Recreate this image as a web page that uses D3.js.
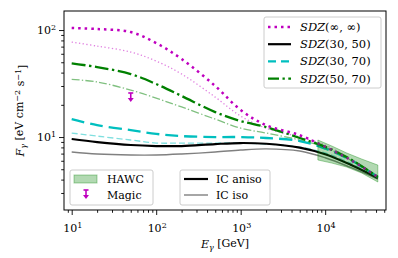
<!DOCTYPE html>
<html>
<head>
<meta charset="utf-8">
<script src="https://cdn.jsdelivr.net/npm/d3@7"></script>
<style>
  body { margin: 0; background: #fff; }
  svg text { font-family: "DejaVu Serif", serif; fill: #000; }
</style>
</head>
<body>
<div id="chart"></div>
<script>
// energies in GeV shared by all model curves
const energies = [10, 20, 50, 100, 200, 500, 1000, 2000, 5000, 10000, 20000, 42000];

const sdzInfInf = [104.4, 102.2, 95.8, 75.6, 53.6, 30.0, 17.9, 12.9, 10.4, 8.1, 6.1, 4.23];
const sdzInfInfThin = [77.2, 70.8, 62.3, 51.3, 38.8, 23.6, 15.7, 12.1, 10.0, 8.4, 6.2, 4.23];
const sdz5070 = [48.8, 45.1, 38.8, 31.3, 24.2, 17.1, 14.1, 12.4, 9.79, 8.1, 6.2, 4.23];
const sdz5070Thin = [34.6, 32.7, 27.5, 23.1, 19.1, 14.7, 12.1, 10.9, 9.38, 8.0, 6.1, 4.23];
const sdz3070 = [14.7, 12.9, 11.6, 10.7, 10.2, 10.0, 10.0, 9.79, 9.18, 7.8, 6.1, 4.23];
const sdz3070Thin = [10.9, 10.2, 9.38, 8.79, 8.79, 8.79, 8.79, 8.60, 8.06, 7.1, 5.7, 4.14];
const icAniso = [9.58, 8.98, 8.42, 8.24, 8.24, 8.60, 8.79, 8.65, 7.95, 6.9, 5.5, 4.14];
const icIso = [7.24, 6.94, 6.79, 6.79, 6.94, 7.24, 7.56, 7.75, 7.4, 6.4, 5.2, 4.05];

const hawcE = [8200, 12000, 18000, 27000, 42000];
const hawcHigh = [9.38, 8.24, 7.09, 6.23, 5.47];
const hawcLow = [6.10, 5.71, 5.24, 4.61, 3.80];

const magicE = [50];
const magicUL = [25.8];

const xMajor = [10, 100, 1000, 10000];
const yMajor = [10, 100];

const W = 398, H = 258;
const plot = { left: 64, right: 386, top: 11, bottom: 210 };

const svg = d3.select('#chart').append('svg')
  .attr('width', W).attr('height', H);

const x = d3.scaleLog().domain([Math.pow(10, 0.909), Math.pow(10, 4.72)]).range([plot.left, plot.right]);
const y = d3.scaleLog().domain([Math.pow(10, 0.318), Math.pow(10, 2.178)]).range([plot.bottom, plot.top]);

svg.append('clipPath').attr('id', 'clip')
  .append('rect')
  .attr('x', plot.left).attr('y', plot.top)
  .attr('width', plot.right - plot.left).attr('height', plot.bottom - plot.top);

const g = svg.append('g').attr('clip-path', 'url(#clip)');

const line = d3.line()
  .x((d, i) => x(energies[i]))
  .y(d => y(d))
  .curve(d3.curveCatmullRom.alpha(0.5));

const series = [
  { data: sdzInfInfThin, color: '#e080e0', width: 1.3, dash: '1.3,2.4' },
  { data: sdz5070Thin, color: '#80c080', width: 1.3, dash: '8,2.2,1.4,2.2' },
  { data: sdz3070Thin, color: '#80dfdf', width: 1.3, dash: '6,3' },
  { data: icIso, color: '#808080', width: 1.4, dash: null },
  { data: icAniso, color: '#000000', width: 2.2, dash: null },
  { data: sdz3070, color: '#00bfbf', width: 2.3, dash: '13,6' },
  { data: sdz5070, color: '#008000', width: 2.3, dash: '14,3.5,2.3,3.5' },
  { data: sdzInfInf, color: '#bf00bf', width: 2.5, dash: '2.5,4' }
];

series.forEach(s => {
  g.append('path')
    .datum(s.data)
    .attr('d', line)
    .attr('fill', 'none')
    .attr('stroke', s.color)
    .attr('stroke-width', s.width)
    .attr('stroke-dasharray', s.dash);
});

// HAWC band
const band = d3.area()
  .x((d, i) => x(hawcE[i]))
  .y0((d, i) => y(hawcLow[i]))
  .y1(d => y(d));

g.append('path')
  .datum(hawcHigh)
  .attr('d', band)
  .attr('fill', 'green')
  .attr('fill-opacity', 0.3)
  .attr('stroke', 'green')
  .attr('stroke-opacity', 0.35)
  .attr('stroke-width', 1);

// magic upper limit
function drawUL(sel, cx, cy) {
  sel.append('line')
    .attr('x1', cx - 2.5).attr('x2', cx + 2.5)
    .attr('y1', cy).attr('y2', cy)
    .attr('stroke', '#bf00bf').attr('stroke-width', 1.6);
  sel.append('line')
    .attr('x1', cx).attr('x2', cx)
    .attr('y1', cy).attr('y2', cy + 6)
    .attr('stroke', '#bf00bf').attr('stroke-width', 1.6);
  sel.append('path')
    .attr('d', `M${cx - 3},${cy + 5} L${cx + 3},${cy + 5} L${cx},${cy + 9} Z`)
    .attr('fill', '#bf00bf');
}

magicE.forEach((e, i) => drawUL(g, x(e), y(magicUL[i])));

// axes
function minorTicks(scale) {
  const [a, b] = scale.domain();
  const out = [];
  for (let p = Math.floor(Math.log10(a)); p <= Math.ceil(Math.log10(b)); p++) {
    for (let k = 2; k <= 9; k++) {
      const v = k * Math.pow(10, p);
      if (v >= a && v <= b) out.push(v);
    }
  }
  return out;
}

function supLabel(sel, exp) {
  sel.text('');
  sel.append('tspan').text('10');
  sel.append('tspan').attr('dy', '-0.45em').attr('font-size', '8px').text(exp);
}

const xAxis = svg.append('g').attr('transform', `translate(0,${plot.bottom})`);
xAxis.call(d3.axisBottom(x).tickValues(xMajor).tickSize(5).tickFormat(''));
xAxis.call(g2 => g2.select('.domain').remove());
xAxis.append('g').call(d3.axisBottom(x).tickValues(minorTicks(x)).tickSize(2.8).tickFormat(''))
  .call(g2 => g2.select('.domain').remove());
xAxis.selectAll('.tick line').attr('stroke', '#000').attr('stroke-width', 0.9);

xMajor.forEach(v => {
  const t = svg.append('text')
    .attr('x', x(v) + 1).attr('y', plot.bottom + 22)
    .attr('text-anchor', 'middle')
    .attr('font-size', '11px');
  supLabel(t, Math.round(Math.log10(v)));
});

const yAxis = svg.append('g').attr('transform', `translate(${plot.left},0)`);
yAxis.call(d3.axisLeft(y).tickValues(yMajor).tickSize(5).tickFormat(''));
yAxis.call(g2 => g2.select('.domain').remove());
yAxis.append('g').call(d3.axisLeft(y).tickValues(minorTicks(y)).tickSize(2.8).tickFormat(''))
  .call(g2 => g2.select('.domain').remove());
yAxis.selectAll('.tick line').attr('stroke', '#000').attr('stroke-width', 0.9);

yMajor.forEach(v => {
  const t = svg.append('text')
    .attr('x', plot.left - 8).attr('y', y(v) + 4)
    .attr('text-anchor', 'end')
    .attr('font-size', '11px');
  supLabel(t, Math.round(Math.log10(v)));
});

svg.append('rect')
  .attr('x', plot.left).attr('y', plot.top)
  .attr('width', plot.right - plot.left).attr('height', plot.bottom - plot.top)
  .attr('fill', 'none').attr('stroke', '#000').attr('stroke-width', 1);

// axis titles
const xt = svg.append('text')
  .attr('x', (plot.left + plot.right) / 2).attr('y', 248)
  .attr('text-anchor', 'middle').attr('font-size', '11px');
xt.append('tspan').attr('font-style', 'italic').text('E');
xt.append('tspan').attr('dy', '0.3em').attr('font-size', '8px').attr('font-style', 'italic').text('γ');
xt.append('tspan').attr('dy', '-0.3em').text(' [GeV]');

const yt = svg.append('text')
  .attr('transform', `translate(24,${(plot.top + plot.bottom) / 2}) rotate(-90)`)
  .attr('text-anchor', 'middle').attr('font-size', '11px');
yt.append('tspan').attr('font-style', 'italic').text('F');
yt.append('tspan').attr('dy', '0.3em').attr('font-size', '8px').attr('font-style', 'italic').text('γ');
yt.append('tspan').attr('dy', '-0.3em').text(' [eV cm');
yt.append('tspan').attr('dy', '-0.45em').attr('font-size', '8px').text('−2');
yt.append('tspan').attr('dy', '0.45em').text(' s');
yt.append('tspan').attr('dy', '-0.45em').attr('font-size', '8px').text('−1');
yt.append('tspan').attr('dy', '0.45em').text(']');

// legends
function legendBox(x0, y0, w, h) {
  svg.append('rect')
    .attr('x', x0).attr('y', y0).attr('width', w).attr('height', h)
    .attr('rx', 2).attr('fill', '#fff').attr('fill-opacity', 0.8)
    .attr('stroke', '#cccccc').attr('stroke-width', 1);
}

legendBox(264, 17, 117, 71);
const sdzLegend = [
  { label: ['∞', '∞'], color: '#bf00bf', width: 2.5, dash: '2.5,4' },
  { label: ['30', '50'], color: '#000000', width: 2.2, dash: null },
  { label: ['30', '70'], color: '#00bfbf', width: 2.3, dash: '8,5' },
  { label: ['50', '70'], color: '#008000', width: 2.3, dash: '11,3.5,2.3,3.5' }
];
sdzLegend.forEach((d, i) => {
  const yy = 27 + i * 17.2;
  svg.append('line')
    .attr('x1', 268).attr('x2', 291).attr('y1', yy).attr('y2', yy)
    .attr('stroke', d.color).attr('stroke-width', d.width).attr('stroke-dasharray', d.dash);
  const t = svg.append('text').attr('x', 300).attr('y', yy + 4).attr('font-size', '11.5px');
  t.append('tspan').attr('font-style', 'italic').text('SDZ');
  t.append('tspan').text(`(${d.label[0]}, ${d.label[1]})`);
});

legendBox(70, 170, 83, 35);
svg.append('rect')
  .attr('x', 74).attr('y', 175).attr('width', 23).attr('height', 8)
  .attr('fill', 'green').attr('fill-opacity', 0.3)
  .attr('stroke', 'green').attr('stroke-opacity', 0.35);
svg.append('text').attr('x', 107).attr('y', 183).attr('font-size', '11px').text('HAWC');
drawUL(svg.append('g'), 86, 190);
svg.append('text').attr('x', 107).attr('y', 199).attr('font-size', '11px').text('Magic');

legendBox(180, 170, 90, 35);
[{ label: 'IC aniso', color: '#000', width: 2.2 }, { label: 'IC iso', color: '#808080', width: 1.4 }]
  .forEach((d, i) => {
    const yy = 179 + i * 16;
    svg.append('line')
      .attr('x1', 184).attr('x2', 208).attr('y1', yy).attr('y2', yy)
      .attr('stroke', d.color).attr('stroke-width', d.width);
    svg.append('text').attr('x', 216).attr('y', yy + 4).attr('font-size', '11px').text(d.label);
  });
</script>
</body>
</html>
